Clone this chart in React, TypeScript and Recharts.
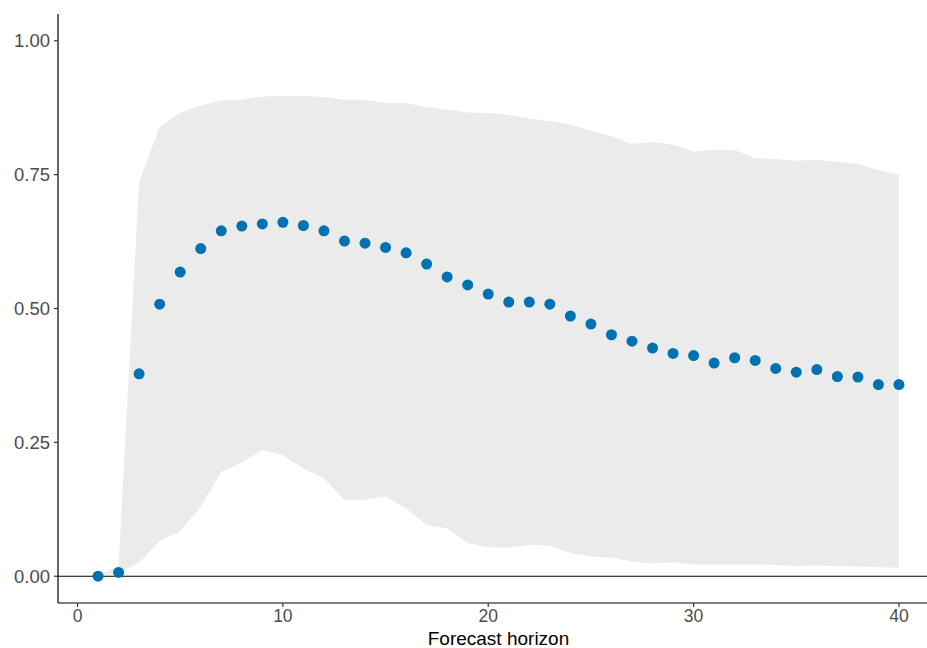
import React from 'react';
import {
  ComposedChart,
  Area,
  Line,
  XAxis,
  YAxis,
  ReferenceLine
} from 'recharts';

// forecast horizons 1..40
const horizon = [
  1, 2, 3, 4, 5, 6, 7, 8, 9, 10,
  11, 12, 13, 14, 15, 16, 17, 18, 19, 20,
  21, 22, 23, 24, 25, 26, 27, 28, 29, 30,
  31, 32, 33, 34, 35, 36, 37, 38, 39, 40
];

// point estimates
const estimate = [
  0.0, 0.007, 0.378, 0.508, 0.568, 0.612, 0.645, 0.654, 0.658, 0.661,
  0.655, 0.645, 0.626, 0.622, 0.614, 0.604, 0.583, 0.559, 0.544, 0.527,
  0.512, 0.512, 0.508, 0.486, 0.471, 0.451, 0.439, 0.426, 0.416, 0.412,
  0.398, 0.408, 0.403, 0.388, 0.381, 0.386, 0.373, 0.372, 0.358, 0.358
];

// lower / upper band
const lower = [
  0.0, 0.006, 0.025, 0.066, 0.084, 0.13, 0.195, 0.212, 0.236, 0.226,
  0.201, 0.183, 0.142, 0.143, 0.149, 0.127, 0.095, 0.089, 0.062, 0.054,
  0.053, 0.059, 0.057, 0.043, 0.037, 0.035, 0.027, 0.024, 0.026, 0.022,
  0.022, 0.022, 0.022, 0.021, 0.019, 0.02, 0.019, 0.018, 0.017, 0.016
];

const upper = [
  0.0, 0.02, 0.736, 0.839, 0.866, 0.879, 0.889, 0.89, 0.896, 0.897,
  0.897, 0.895, 0.89, 0.89, 0.884, 0.884, 0.876, 0.871, 0.866, 0.865,
  0.862, 0.855, 0.85, 0.843, 0.832, 0.822, 0.807, 0.811, 0.806, 0.793,
  0.796, 0.796, 0.781, 0.779, 0.776, 0.778, 0.774, 0.77, 0.758, 0.75
];

const xTicks = [0, 10, 20, 30, 40];
const yTicks = [0, 0.25, 0.5, 0.75, 1];

const FONT = '"Liberation Sans", Arial, sans-serif';

const App: React.FC = () => {
  const rows = horizon.map((h, i) => ({
    h,
    est: estimate[i],
    band: [lower[i], upper[i]]
  }));

  return (
    <div style={{ position: 'fixed', top: 0, left: 0, width: 927, height: 648, overflow: 'hidden', background: '#fff' }}>
      {/* panel is a bit wider than the picture: the original was cropped on the right */}
      <ComposedChart
        width={939}
        height={648}
        data={rows}
        margin={{ top: 14, right: 0, left: 0, bottom: 0 }}
      >
        <XAxis
          type="number"
          dataKey="h"
          domain={[-0.95, 41.95]}
          ticks={xTicks}
          allowDataOverflow
          height={45}
          tickSize={4}
          tickMargin={3}
          stroke="#000"
          strokeWidth={1.2}
          tickLine={{ stroke: '#333', strokeWidth: 1.2 }}
          tick={{ fill: '#4d4d4d', fontSize: 17.5, fontFamily: FONT }}
          label={({ viewBox }: any) => (
            <text
              x={viewBox.x + viewBox.width / 2}
              y={645}
              textAnchor="middle"
              fill="#000"
              fontSize={19}
              fontFamily={FONT}
            >
              Forecast horizon
            </text>
          )}
        />
        <YAxis
          type="number"
          domain={[-0.05, 1.05]}
          ticks={yTicks}
          allowDataOverflow
          width={58}
          tickSize={4}
          tickMargin={4}
          stroke="#000"
          strokeWidth={1.2}
          tickLine={{ stroke: '#333', strokeWidth: 1.2 }}
          tick={{ fill: '#4d4d4d', fontSize: 18.5, fontFamily: FONT }}
          tickFormatter={(v: number) => v.toFixed(2)}
        />
        <Area
          type="linear"
          dataKey="band"
          fill="#ebebeb"
          fillOpacity={1}
          stroke="none"
          isAnimationActive={false}
        />
        <ReferenceLine y={0} stroke="#000" strokeWidth={1.2} />
        <Line
          type="linear"
          dataKey="est"
          stroke="none"
          dot={{ r: 5.5, fill: '#0072B2', stroke: 'none' }}
          activeDot={false}
          isAnimationActive={false}
        />
      </ComposedChart>
    </div>
  );
};

export default App;
